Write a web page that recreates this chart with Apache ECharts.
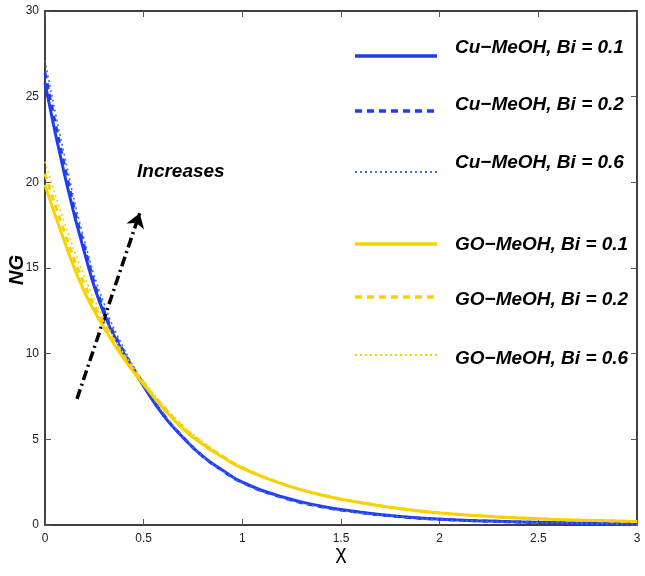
<!DOCTYPE html>
<html>
<head>
<meta charset="utf-8">
<script src="https://cdn.jsdelivr.net/npm/echarts@6/dist/echarts.min.js"></script>
<style>html,body{margin:0;padding:0;background:#fff}#c{width:645px;height:576px}</style>
</head>
<body>
<div id="c"></div>
<script>
const xs = [0, 0.1, 0.2, 0.3, 0.4, 0.5, 0.6, 0.7, 0.8, 0.9, 1.0, 1.2, 1.4, 1.6, 1.8, 2.0, 2.25, 2.5, 2.75, 3.0];
const cuBi01 = [25.8, 20.4, 15.9, 12.3, 10.0, 8.1, 6.4, 5.1, 4.0, 3.2, 2.5, 1.65, 1.1, 0.75, 0.5, 0.34, 0.23, 0.16, 0.1, 0.06];
const cuBi02 = [26.4, 20.9, 16.2, 12.5, 10.1, 8.2, 6.45, 5.12, 4.0, 3.17, 2.48, 1.62, 1.07, 0.72, 0.48, 0.33, 0.22, 0.15, 0.09, 0.05];
const cuBi06 = [27.1, 21.5, 16.6, 12.9, 10.3, 8.3, 6.5, 5.15, 4.0, 3.15, 2.45, 1.6, 1.05, 0.7, 0.47, 0.32, 0.21, 0.14, 0.09, 0.05];
const goBi01 = [19.85, 16.5, 13.6, 11.5, 9.7, 8.2, 6.8, 5.6, 4.7, 3.95, 3.3, 2.4, 1.75, 1.3, 0.95, 0.7, 0.5, 0.36, 0.27, 0.2];
const goBi02 = [20.5, 17.05, 14.05, 11.75, 9.85, 8.3, 6.9, 5.7, 4.78, 4.0, 3.35, 2.42, 1.77, 1.31, 0.96, 0.71, 0.51, 0.36, 0.27, 0.2];
const goBi06 = [21.2, 17.6, 14.5, 12.0, 10.0, 8.4, 7.0, 5.8, 4.85, 4.05, 3.4, 2.45, 1.8, 1.33, 0.98, 0.72, 0.52, 0.37, 0.28, 0.21];
const names = ['Cu\u2212MeOH, Bi = 0.1','Cu\u2212MeOH, Bi = 0.2','Cu\u2212MeOH, Bi = 0.6','GO\u2212MeOH, Bi = 0.1','GO\u2212MeOH, Bi = 0.2','GO\u2212MeOH, Bi = 0.6'];
const arrowStart = [0.162, 7.36];
const arrowEnd = [0.48, 18.2];
const annotation = 'Increases';
const xTitle = '\u03c7';
const yTitle = 'NG';

const BLUE = '#1e3ef2', YEL = '#f8d200';
const FONT = 'Liberation Sans';
function pairs(ys){ return xs.map((x,i)=>[x, ys[i]]); }
const styles = [
  {c:BLUE, w:3, t:'solid', lw:3.5, lt:'solid'}, {c:BLUE, w:3, t:[6,5], lw:3.5, lt:[7,5]}, {c:'#4a66f2', w:1.6, t:[2,3], lw:2, lt:[2,3]},
  {c:YEL, w:3, t:'solid', lw:3.5, lt:'solid'}, {c:YEL, w:3, t:[6,5], lw:3.5, lt:[7,5]}, {c:YEL, w:1.6, t:[2,3], lw:2, lt:[2,3]}
];
const datasets = [cuBi01, cuBi02, cuBi06, goBi01, goBi02, goBi06];
const series = datasets.map((d,i)=>({
  name: names[i], type:'line', data: pairs(d), smooth: true, showSymbol:false, symbol:'none',
  xAxisIndex:0, yAxisIndex:0,
  lineStyle:{color:styles[i].c, width:styles[i].w, type:styles[i].t},
  itemStyle:{color:styles[i].c}, z: 2 + i
}));
series.push({
  type:'line', data:[], xAxisIndex:0, yAxisIndex:0, silent:true,
  markLine:{
    silent:true, symbol:['none','arrow'], symbolSize:14, label:{show:false},
    lineStyle:{color:'#000', width:3.5, type:[10,4,2,4]},
    data:[[{coord:arrowStart, symbol:'none'},{coord:arrowEnd, symbol:'arrow', symbolSize:14}]]
  }, z:10
});

const legendLineY = [56, 111, 172, 244, 297, 355];
const legendTextY = [48, 105, 163, 245, 300, 359];
const graphics = [];
names.forEach((n,i)=>{
  graphics.push({type:'line', shape:{x1:355, y1:legendLineY[i], x2:437, y2:legendLineY[i]},
    style:{stroke:styles[i].c, lineWidth:styles[i].lw, lineDash: styles[i].lt==='solid'?null:styles[i].lt}});
  graphics.push({type:'text', x:455, y:legendTextY[i], style:{text:n, fontFamily:FONT, fontSize:19, fontWeight:'bold', fontStyle:'italic', fill:'#000', verticalAlign:'middle'}});
});
graphics.push({type:'text', left:137, top:162, style:{text:annotation, fontFamily:FONT, fontSize:19, fontWeight:'bold', fontStyle:'italic', fill:'#000'}});
graphics.push({type:'text', x:17, y:270, rotation:Math.PI/2, style:{text:yTitle, fontFamily:FONT, fontSize:20, fontWeight:'bold', fontStyle:'italic', fill:'#000', align:'center', verticalAlign:'middle'}});
graphics.push({type:'text', x:341, y:553, style:{text:xTitle, fontFamily:FONT, fontSize:21, fill:'#000', align:'center', verticalAlign:'middle'}});

const axisCommon = {
  min:0, axisLine:{show:true, onZero:false, lineStyle:{color:'#000', width:1.5}},
  axisTick:{show:true, inside:true, length:6, lineStyle:{color:'#555', width:1}},
  splitLine:{show:false}
};
const chart = echarts.init(document.getElementById('c'));
chart.setOption({
  animation:false,
  grid:{left:45, right:8, top:11, bottom:51, outerBoundsMode:'none', containLabel:false},
  xAxis:[
    Object.assign({}, axisCommon, {type:'value', max:3, interval:0.5, position:'bottom',
      axisLabel:{color:'#222', fontFamily:FONT, fontSize:12, margin:8}}),
    Object.assign({}, axisCommon, {type:'value', max:3, interval:0.5, position:'top', axisLabel:{show:false}})
  ],
  yAxis:[
    Object.assign({}, axisCommon, {type:'value', max:30, interval:5, position:'left',
      axisLabel:{color:'#222', fontFamily:FONT, fontSize:12, margin:6}}),
    Object.assign({}, axisCommon, {type:'value', max:30, interval:5, position:'right', axisLabel:{show:false}})
  ],
  graphic: graphics,
  series: series
});
</script>
</body>
</html>
